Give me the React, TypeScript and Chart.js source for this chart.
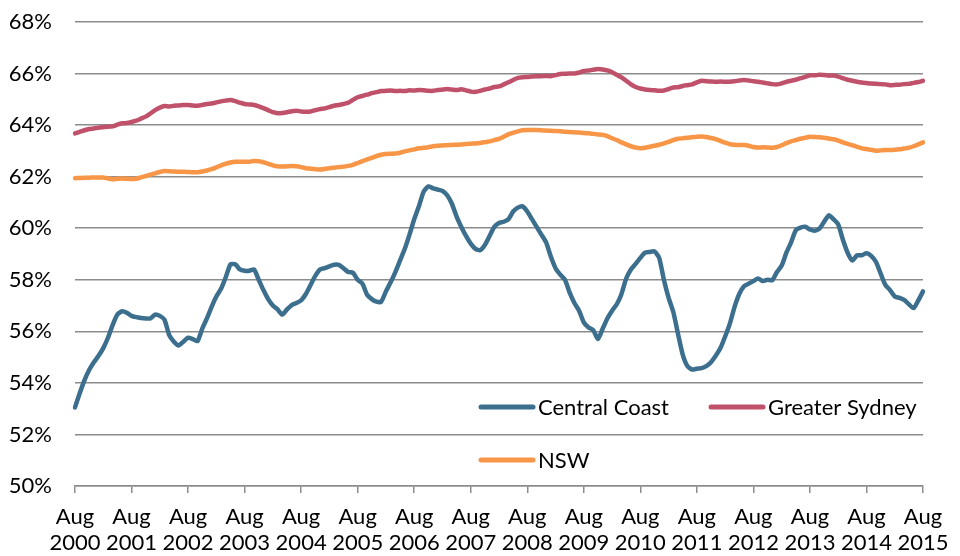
import React, { useEffect, useRef } from "react";
import { Chart, registerables } from "chart.js";

Chart.register(...registerables);

// Monthly series, Aug 2000 – Aug 2015 (participation rate, %)
const startYear = 2000;
const monthNames = ["Aug", "Sep", "Oct", "Nov", "Dec", "Jan", "Feb", "Mar", "Apr", "May", "Jun", "Jul"];

const centralCoast = [
  53.05, 53.6, 54.1, 54.5, 54.8, 55.05, 55.35, 55.75, 56.25, 56.65, 56.78, 56.72,
  56.6, 56.55, 56.52, 56.5, 56.5, 56.65, 56.6, 56.45, 55.85, 55.6, 55.45, 55.6,
  55.75, 55.7, 55.62, 56.1, 56.5, 56.95, 57.35, 57.65, 58.1, 58.6, 58.6, 58.4,
  58.35, 58.35, 58.4, 58.0, 57.6, 57.25, 57.0, 56.85, 56.65, 56.85, 57.02, 57.1,
  57.2, 57.45, 57.8, 58.15, 58.4, 58.45, 58.52, 58.58, 58.58, 58.45, 58.3, 58.27,
  58.0, 57.85, 57.42, 57.25, 57.15, 57.15, 57.55, 57.9, 58.3, 58.75, 59.2, 59.75,
  60.35, 60.85, 61.42, 61.62, 61.55, 61.5, 61.45, 61.28, 60.95, 60.45, 60.05, 59.7,
  59.4, 59.2, 59.15, 59.35, 59.7, 60.05, 60.2, 60.25, 60.35, 60.65, 60.8, 60.85,
  60.65, 60.35, 60.05, 59.75, 59.45, 58.9, 58.45, 58.2, 58.0, 57.5, 57.1, 56.8,
  56.35, 56.15, 56.05, 55.7, 56.1, 56.5, 56.8, 57.05, 57.45, 58.05, 58.4, 58.62,
  58.85, 59.05, 59.08, 59.1, 58.85, 58.0, 57.3, 56.75, 55.9, 55.1, 54.65, 54.52,
  54.55, 54.57, 54.65, 54.8, 55.05, 55.35, 55.8, 56.3, 56.95, 57.45, 57.75, 57.85,
  57.95, 58.05, 57.95, 58.0, 57.98, 58.3, 58.55, 59.05, 59.45, 59.92, 60.02, 60.06,
  59.95, 59.9, 59.98, 60.25, 60.5, 60.35, 60.15, 59.55, 59.05, 58.75, 58.95, 58.95,
  59.03, 58.93, 58.7, 58.25, 57.8, 57.6, 57.35, 57.3, 57.22, 57.05, 56.9, 57.2,
  57.55,
];

const greaterSydney = [
  63.68, 63.74, 63.8, 63.85, 63.87, 63.9, 63.92, 63.94, 63.95, 64.02, 64.07, 64.08,
  64.12, 64.17, 64.25, 64.33, 64.45, 64.58, 64.68, 64.74, 64.72, 64.75, 64.76, 64.78,
  64.78, 64.76, 64.75, 64.78, 64.82, 64.84, 64.88, 64.92, 64.95, 64.97, 64.93, 64.87,
  64.82, 64.8, 64.78, 64.73, 64.66, 64.58, 64.5, 64.46, 64.47, 64.5, 64.54, 64.56,
  64.53, 64.52, 64.53, 64.58, 64.62, 64.65, 64.7, 64.75, 64.78, 64.82, 64.87, 64.98,
  65.08, 65.13, 65.18, 65.24, 65.28, 65.32, 65.33, 65.34, 65.32, 65.33, 65.32, 65.35,
  65.34, 65.36, 65.35, 65.33, 65.33, 65.36, 65.38, 65.4, 65.38, 65.36, 65.39, 65.35,
  65.3, 65.29, 65.33, 65.38, 65.42, 65.48, 65.5, 65.58, 65.66, 65.75, 65.83, 65.86,
  65.87, 65.89, 65.9, 65.9, 65.91, 65.9, 65.94, 65.98, 65.99, 66.0, 66.0, 66.04,
  66.1, 66.12, 66.15, 66.18, 66.16, 66.12, 66.05, 65.95, 65.85, 65.72, 65.58, 65.48,
  65.42, 65.38, 65.36, 65.35, 65.33, 65.34, 65.4, 65.46, 65.47, 65.52, 65.55, 65.58,
  65.66, 65.72, 65.7, 65.69, 65.68, 65.69, 65.68, 65.68, 65.7, 65.73, 65.75, 65.73,
  65.7, 65.68, 65.65, 65.62, 65.59, 65.58, 65.62, 65.68, 65.72, 65.76, 65.82, 65.87,
  65.93, 65.93, 65.95, 65.94, 65.92, 65.92, 65.88, 65.82, 65.76, 65.72, 65.68, 65.65,
  65.63, 65.61, 65.6, 65.59, 65.58, 65.55, 65.56, 65.57, 65.59, 65.6, 65.64, 65.67,
  65.72,
];

const nsw = [
  61.94, 61.95, 61.96, 61.96, 61.97, 61.97, 61.97, 61.93, 61.9, 61.92, 61.93, 61.92,
  61.91, 61.92, 61.97, 62.02, 62.08, 62.13, 62.18, 62.22, 62.21, 62.2, 62.19, 62.19,
  62.18, 62.17, 62.17, 62.2, 62.24, 62.29, 62.36, 62.44, 62.5, 62.55, 62.58, 62.58,
  62.58, 62.58, 62.61, 62.6, 62.56, 62.5, 62.44, 62.4, 62.39, 62.4, 62.41, 62.4,
  62.37, 62.33, 62.31, 62.29, 62.28, 62.3, 62.33, 62.35, 62.37, 62.39, 62.42, 62.46,
  62.53, 62.6, 62.67, 62.73, 62.8, 62.85, 62.88, 62.89, 62.9, 62.93, 62.98, 63.02,
  63.06, 63.1, 63.12, 63.14, 63.18, 63.2, 63.21, 63.22, 63.23, 63.24, 63.25, 63.27,
  63.28, 63.29, 63.31, 63.34, 63.37, 63.42, 63.47, 63.55, 63.64, 63.7, 63.76, 63.8,
  63.81, 63.81, 63.81, 63.8, 63.79, 63.78, 63.77, 63.76, 63.74, 63.73, 63.72, 63.71,
  63.69, 63.68, 63.66, 63.64, 63.62, 63.57, 63.49, 63.42, 63.33, 63.25, 63.18, 63.13,
  63.1, 63.12, 63.16, 63.2, 63.24, 63.29, 63.35, 63.42, 63.47, 63.49, 63.51, 63.53,
  63.55, 63.56, 63.54, 63.5, 63.46, 63.39, 63.32, 63.26, 63.24, 63.23, 63.23, 63.2,
  63.15, 63.13, 63.14, 63.13, 63.12, 63.15, 63.22, 63.3, 63.37, 63.42, 63.47, 63.51,
  63.55, 63.54, 63.53, 63.51, 63.48, 63.45, 63.4, 63.33, 63.27, 63.22, 63.16, 63.1,
  63.07, 63.04, 63.01, 63.02, 63.03, 63.03, 63.04, 63.06, 63.09, 63.12, 63.18, 63.25,
  63.33,
];

// Month labels: "Aug 2000", "Sep 2000", ...
const months = centralCoast.map((_, i) => {
  const m = i % 12;
  const year = startYear + Math.floor(i / 12) + (m >= 5 ? 1 : 0);
  return `${monthNames[m]} ${year}`;
});

const yTicks = { min: 50, max: 68, step: 2 };

const COLORS = {
  centralCoast: "#3C6E8E",
  greaterSydney: "#C0516B",
  nsw: "#F79646",
  grid: "#8C8C8C",
  text: "#000000",
};

const FONT = "Lato, 'Open Sans', sans-serif";
const FONT_SIZE = 22;

// Legend drawn inside the plot area, bottom right, two columns
const insideLegend = {
  id: "insideLegend",
  afterDraw(chart: any) {
    const { ctx, chartArea } = chart;
    const slots = [
      { dx: 406, dy: -79 },
      { dx: 636, dy: -79 },
      { dx: 406, dy: -26 },
    ];
    ctx.save();
    ctx.font = `${FONT_SIZE}px ${FONT}`;
    ctx.textBaseline = "middle";
    ctx.textAlign = "left";
    chart.data.datasets.forEach((ds: any, i: number) => {
      const s = slots[i];
      const x = chartArea.left + s.dx;
      const y = chartArea.bottom + s.dy;
      ctx.strokeStyle = ds.borderColor;
      ctx.lineWidth = 5;
      ctx.lineCap = "round";
      ctx.beginPath();
      ctx.moveTo(x, y);
      ctx.lineTo(x + 52, y);
      ctx.stroke();
      ctx.fillStyle = COLORS.text;
      ctx.fillText(ds.label, x + 57, y + 1);
    });
    ctx.restore();
  },
};

export default function App() {
  const canvasRef = useRef<HTMLCanvasElement | null>(null);

  useEffect(() => {
    const canvas = canvasRef.current;
    if (!canvas) return;
    const lineStyle = {
      borderWidth: 4.5,
      pointRadius: 0,
      pointHoverRadius: 0,
      tension: 0.2,
      fill: false,
      borderJoinStyle: "round" as const,
      borderCapStyle: "round" as const,
    };
    const chart = new Chart(canvas, {
      type: "line",
      data: {
        labels: months,
        datasets: [
          { label: "Central Coast", data: centralCoast, borderColor: COLORS.centralCoast, backgroundColor: COLORS.centralCoast, ...lineStyle },
          { label: "Greater Sydney", data: greaterSydney, borderColor: COLORS.greaterSydney, backgroundColor: COLORS.greaterSydney, ...lineStyle },
          { label: "NSW", data: nsw, borderColor: COLORS.nsw, backgroundColor: COLORS.nsw, ...lineStyle },
        ],
      },
      options: {
        responsive: false,
        animation: false,
        events: [],
        layout: { padding: { left: 0, top: 22, right: 37, bottom: 0 } },
        plugins: {
          legend: { display: false },
          tooltip: { enabled: false },
          title: { display: false },
        },
        scales: {
          x: {
            type: "category",
            offset: false,
            border: { display: true, color: COLORS.grid, width: 1.5 },
            grid: {
              drawOnChartArea: false,
              drawTicks: true,
              tickLength: 7,
              lineWidth: 1.5,
              color: (c: any) => (c.index % 12 === 0 ? COLORS.grid : "rgba(0,0,0,0)"),
            },
            ticks: {
              autoSkip: false,
              maxRotation: 0,
              minRotation: 0,
              padding: 10,
              color: COLORS.text,
              font: { family: FONT, size: FONT_SIZE, lineHeight: 1.22 },
              callback: (_v: any, i: number) => {
                if (i % 12 !== 0) return "";
                const parts = months[i].split(" ");
                return [parts[0], parts[1]];
              },
            },
            afterFit: (scale: any) => {
              scale.height = 70;
            },
          },
          y: {
            min: yTicks.min,
            max: yTicks.max,
            border: { display: false },
            grid: {
              drawTicks: true,
              tickLength: 23,
              tickColor: "rgba(0,0,0,0)",
              color: COLORS.grid,
              lineWidth: 1.5,
            },
            ticks: {
              stepSize: yTicks.step,
              padding: 0,
              color: COLORS.text,
              font: { family: FONT, size: FONT_SIZE },
              callback: (v: any) => `${v}%`,
            },
            afterFit: (scale: any) => {
              scale.width = 75;
            },
          },
        },
      },
      plugins: [insideLegend],
    });
    return () => chart.destroy();
  }, []);

  return (
    <div style={{ position: "fixed", left: 0, top: 0, width: 960, height: 556, background: "#ffffff" }}>
      <canvas ref={canvasRef} width={960} height={556} />
    </div>
  );
}
